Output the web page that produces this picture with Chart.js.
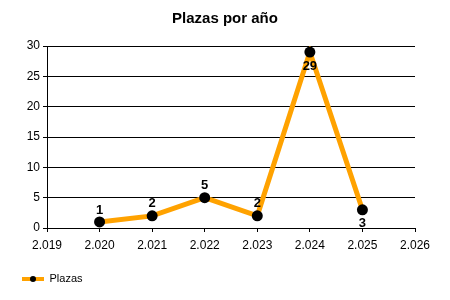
<!DOCTYPE html>
<html>
<head>
<meta charset="utf-8">
<script src="https://cdn.jsdelivr.net/npm/chart.js@4/dist/chart.umd.min.js"></script>
<style>
html,body{margin:0;padding:0;background:#fff;}
#wrap{width:450px;height:300px;position:relative;}
</style>
</head>
<body>
<div id="wrap"><canvas id="c" width="450" height="300"></canvas></div>
<script>
const years = [2020, 2021, 2022, 2023, 2024, 2025];
const plazas = [1, 2, 5, 2, 29, 3];
const seriesName = 'Plazas';
const chartTitle = 'Plazas por año';
const labelSide = ['top', 'top', 'top', 'top', 'bottom', 'bottom'];

const FONT = '"Liberation Sans", Arial, sans-serif';
const ORANGE = '#FFA200';

function fmtYear(v) {
  const s = String(Math.round(v));
  return s.length > 3 ? s.slice(0, s.length - 3) + '.' + s.slice(-3) : s;
}

// legend symbol: orange line with black dot (transparent margin on the left)
const sym = document.createElement('canvas');
sym.width = 36; sym.height = 9;
(function () {
  const g = sym.getContext('2d');
  g.fillStyle = ORANGE;
  g.fillRect(14, 3, 22, 4);
  g.fillStyle = '#000';
  g.beginPath(); g.arc(25, 5, 3, 0, Math.PI * 2); g.fill();
})();

const valueLabels = {
  id: 'valueLabels',
  afterDatasetsDraw(chart) {
    const ctx = chart.ctx;
    const meta = chart.getDatasetMeta(0);
    ctx.save();
    ctx.font = 'bold 13px ' + FONT;
    ctx.fillStyle = '#000';
    ctx.textAlign = 'center';
    ctx.textBaseline = 'middle';
    meta.data.forEach((pt, i) => {
      const dy = labelSide[i] === 'bottom' ? 14 : -12;
      ctx.fillText(String(plazas[i]), pt.x, pt.y + dy);
    });
    ctx.restore();
  }
};

new Chart(document.getElementById('c'), {
  type: 'line',
  data: {
    datasets: [{
      label: seriesName,
      data: years.map((y, i) => ({ x: y, y: plazas[i] })),
      borderColor: ORANGE,
      backgroundColor: '#000',
      borderWidth: 5,
      pointStyle: 'circle',
      pointRadius: 5.5,
      pointHoverRadius: 5.5,
      pointBackgroundColor: '#000',
      pointBorderColor: '#000',
      pointBorderWidth: 0,
      tension: 0,
      fill: false
    }]
  },
  options: {
    responsive: false,
    animation: false,
    devicePixelRatio: 1,
    layout: { padding: { left: 0, right: 0, top: 0, bottom: 6 } },
    plugins: {
      title: {
        display: true,
        text: chartTitle,
        color: '#000',
        font: { family: FONT, size: 15, weight: 'bold' },
        padding: { top: 10, bottom: 18 }
      },
      legend: {
        display: true,
        position: 'bottom',
        align: 'start',
        labels: {
          color: '#000',
          font: { family: FONT, size: 11 },
          usePointStyle: true,
          pointStyleWidth: 36,
          padding: 8,
          generateLabels() {
            return [{ text: seriesName, pointStyle: sym, fillStyle: ORANGE, strokeStyle: ORANGE, lineWidth: 0, fontColor: '#000' }];
          }
        }
      },
      tooltip: { enabled: false }
    },
    scales: {
      x: {
        type: 'linear',
        min: 2019,
        max: 2026,
        ticks: {
          stepSize: 1,
          color: '#000',
          font: { family: FONT, size: 12 },
          padding: 6,
          maxRotation: 0,
          callback: v => fmtYear(v)
        },
        grid: { drawOnChartArea: false, drawTicks: true, tickLength: 4, color: '#000' },
        border: { display: true, color: '#000', width: 1 },
        afterFit(s) { s.height = 37; }
      },
      y: {
        position: 'left',
        min: 0,
        max: 30,
        ticks: {
          stepSize: 5,
          color: '#000',
          font: { family: FONT, size: 12 },
          padding: 3
        },
        grid: { color: '#000', lineWidth: 1, tickLength: 4 },
        border: { display: true, color: '#000', width: 1 },
        afterFit(s) { s.width = 47; }
      },
      yRightSpace: {
        position: 'right',
        min: 0,
        max: 1,
        display: true,
        ticks: { display: false },
        grid: { display: false, drawTicks: false },
        border: { display: false },
        afterFit(s) { s.width = 35; }
      }
    }
  },
  plugins: [valueLabels]
});
</script>
</body>
</html>
